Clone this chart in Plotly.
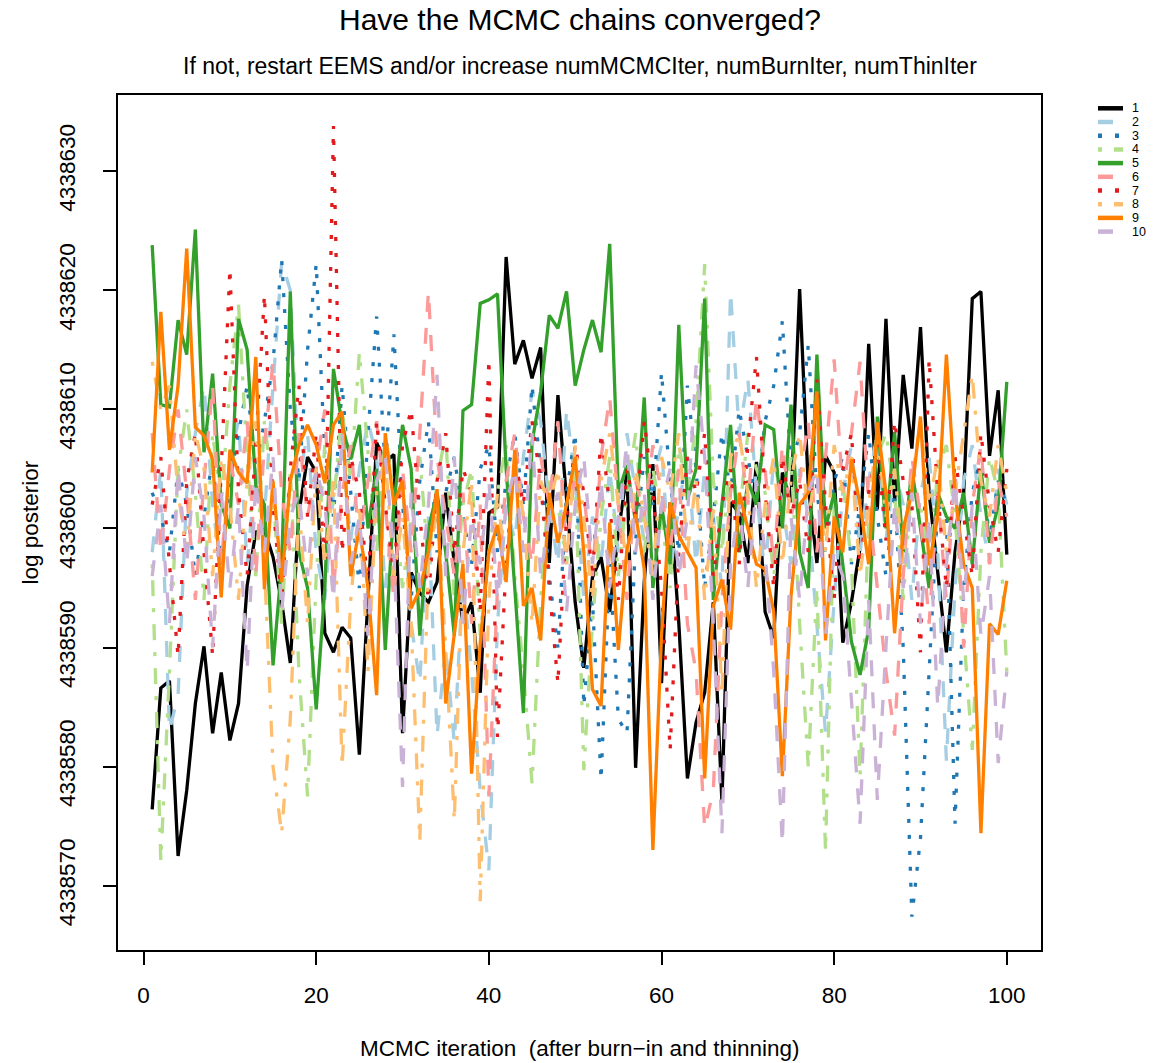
import plotly.graph_objects as go

# Log posterior traces for 10 MCMC chains, stored as offsets from BASE
BASE = 4338600
iterations = list(range(1, 101))

chain_01 = [-23.6, -13.4, -12.8, -27.5, -22.0, -14.7, -9.9, -17.2, -12.1, -17.8,
            -14.7, -4.8, -0.3, -0.1, -2.4, -6.2, -11.3, 1.3, 6.0, 4.7,
            -8.8, -10.4, -8.3, -9.2, -19.0, -6.2, 7.2, 5.6, 6.2, -17.2,
            -3.7, -5.4, -6.2, -4.5, 3.0, -2.9, -7.9, -6.2, -13.8, 1.3,
            1.8, 22.8, 13.8, 15.8, 12.6, 15.2, -2.9, 11.2, 2.2, -6.2,
            -11.7, -4.1, -2.4, -7.0, -0.3, 4.7, -20.1, -4.5, 5.4, -13.0,
            2.2, -7.9, -21.0, -16.3, -13.8, -6.2, -23.0, 2.2, 1.3, -2.9,
            5.6, -7.0, -9.2, 4.7, 2.2, 20.1, 3.6, -2.9, 6.1, 4.7,
            -9.6, -6.2, -1.6, 15.5, 1.6, 17.6, 2.2, 12.9, 6.7, 16.9,
            3.0, -3.7, -10.4, -2.0, 3.0, 19.3, 19.9, 6.1, 11.6, -2.2]

chain_02 = [-2, 5, -17, -14, 3, 8, 12, 2, -4, 6,
            9, -3, 5, 1, 12, 22.4, 20, 4, 8, -2,
            -6, 3, 7, -1, 5, 9, 6, -5, 2, 4,
            -8, -13, 1, -17.4, -10, -18, -4, -12, -22, -28.7,
            -8, 2, -1, 6, 11.5, 9, 2, -3, 10, 4,
            -6, 1, -3, 5, -2, 8, 3, -1, 4, 7,
            -4, 2, 6, -3, 5, 1, -5, 19.9, 8, 12.6,
            3, -4, 6, 2, -3, 5, 1, -8, -17.2, -6,
            3, 7, -2, 4, 8, -1, 5, 2, -6, 3,
            6, -2, -19.5, -5, 4, 7, 1, -3, 5, 2]

chain_03 = [3, 1, -2, 5, 2, -4, 1, 6, -3, 4,
            8, 12, 5, 9, 14, 22.6, 10, 4, 15, 22.2,
            6, 1, 12, 3, -5, 8, 17.8, 5, 16.3, 2,
            -6, 4, 9, -2, 3, 6, 1, -3, 5, 7,
            -2, 4, 8, 2, 12, 5, -4, -10, 3, 8,
            -14.9, -6, -21.1, -3, -16, -17.2, -1, 6, 2, 13.1,
            4, -2, 12, 5, -5, 1, 8, 3, 10, 6,
            2, 9, 12, 17.4, 5, 8, 15.4, 3, -2, 4,
            6, -3, 2, 8, 1, -4, 3, -10, -32.6, -26,
            -12, 2, 1, -24.8, -5, 3, 6, -1, 4, 2]

chain_04 = [-3, -27.9, -12, 5, 10, 3, -6, 8, 2, 12,
            18.8, 6, -4, 9, 3, -8, 5, -12, -22.5, -4,
            7, 2, 10, 4, 14.8, 6, -2, 8, 3, -5,
            1, 6, -3, 4, 8, -6, 2, 5, -9, -2,
            3, 7, -4, -12, -21.4, -6, 4, 2, -3, 5,
            -20.3, -8, 1, 6, -4, 3, 8, -2, 5, 1,
            -5, 7, 3, 9, 22.2, 4, -2, 6, 1, 8,
            5, 3, -4, 2, 6, -8, -20, -5, -27.1, 2,
            4, -3, -20.8, 1, 6, 8, 3, -6, 4, 2,
            -4, 5, 7, 1, -9, -18.6, -2, 6, 3, -12]

chain_05 = [23.8, 10.4, 10.2, 17.5, 14.6, 25.1, 6.4, 13.0, 2.0, 0.0,
            17.6, 15.0, 3.6, 2.0, -11.5, -3.0, 19.9, -2.0, -5.0, -15.2,
            -5.0, 13.4, 8.7, 5.8, 8.7, 0.0, 5.0, -10.2, 2.0, 8.7,
            5.0, -9.0, 0.0, 3.0, -2.0, -9.0, 9.9, 10.4, 18.9, 19.2,
            19.7, 5.0, -5.0, -15.5, 7.2, 11.5, 17.9, 16.8, 19.9, 12.0,
            15.0, 17.5, 14.8, 23.9, 3.0, 5.3, 0.5, 11.0, -5.0, 2.0,
            -3.0, 17.1, 2.4, 5.0, 19.3, -6.0, 2.0, 8.7, -2.0, 4.0,
            2.0, 8.7, 8.3, 0.0, 10.4, -2.0, -5.0, 14.6, 0.0, 3.0,
            -3.0, -9.5, -12.3, -8.5, 9.4, 0.0, 8.1, -2.0, 5.0, 0.0,
            -5.0, 3.0, 1.0, 0.0, 3.0, -3.0, 5.0, -1.2, 2.0, 12.3]

chain_06 = [8, -2, 5, 10, 3, -6, 4, 12, -3, 6,
            2, 9, -4, 7, 14, 3, -2, 8, 1, 5,
            10, -5, 3, 7, -1, 4, 9, 2, -6, 5,
            -2, 8, 19.9, 6, 1, -4, 3, -8, 2, -22.5,
            -5, 4, 8, 1, -3, 6, 2, 9, -2, 5,
            3, -4, 6, 11, 2, -6, 4, 1, 7, 3,
            -2, 5, -8, -12, -25.2, -22, -6, 3, 8, 2,
            11, 5, -3, 7, 1, 4, 9, -2, 6, 14.2,
            3, 8, 14, 2, -5, -12, -17.4, -4, 6, 1,
            -8, 3, -6, 5, -10, 2, 7, -3, 4, 1]

chain_07 = [2, 6, -3, -10.7, 4, 8, -2, -10.7, 5, 21.8,
            3, -4, 7, 19.6, 2, -6, 5, 12, 1, 8,
            -3, 33.8, -2, 6, 3, -5, 9, 2, -4, 7,
            10, 1, -6, 4, 8, -2, 5, 3, -7, 14.2,
            -17.5, -3, 6, 2, 9, 4, -5, -13, 1, 7,
            3, -4, 8, 2, -6, 5, 1, 9, 3, -5,
            -18.6, -2, 6, 3, 8, -4, 2, 5, -3, 7,
            14.4, 3, -5, 6, 1, 4, -2, 12.5, 2, -6,
            5, 8, -3, 3, 7, -1, 9, 4, 2, -10.4,
            14.2, 3, -5, 6, 1, -4, 8, 2, -2, 5]

chain_08 = [14, 10, 12, 3, -2, 8, 5, -4, 6, 2,
            -6, 4, 9, -3, -20, -25.6, -16, 2, -8, 5,
            -3, 4, -20, -6, 2, -12, 3, 6, -4, 1,
            -8, -26.2, -3, 2, -10, -24.5, -2, 4, -31.3, -6,
            3, -4, 6, 1, -8, 4, 2, 5, -3, 7,
            1, -6, 4, 8, 2, -3, 5, 1, -4, 6,
            3, 8, -2, 4, -6, 2, -14, 6, 8, 3,
            -5, 2, 6, -3, 4, 8, 1, 5, -2, 7,
            3, 6, -4, 2, 8, 1, 5, -3, 4, 9,
            2, 6, -2, 3, 8, 12.9, 4, 1, 7, 3]

chain_09 = [4.7, 18.2, 6.6, 12.0, 23.5, 8.5, 7.8, 5.8, -5.8, 6.6,
            4.7, 3.8, 14.4, -5.1, 4.0, -4.5, 4.0, 7.0, 8.7, 7.0,
            3.8, 8.7, 9.8, -4.0, 0.0, -5.0, -14.0, 8.0, 2.0, 4.0,
            -6.7, -5.1, -2.0, 3.3, -14.7, -9.0, -3.0, -20.6, -9.6, -2.0,
            0.3, -4.5, 6.6, -6.5, -5.0, -9.4, 3.0, -1.2, 2.0, 6.0,
            -2.0, -13.5, -14.9, 0.5, -10.2, -1.7, 1.2, -3.4, -27.0, -9.0,
            2.2, -0.6, -2.0, -3.3, -21.0, -6.5, -4.3, -8.5, 3.0, 0.0,
            -3.0, -3.4, -7.0, -20.8, -5.7, 2.0, 3.0, 11.5, -9.4, 1.0,
            -2.0, 5.8, 2.0, -3.0, 8.9, 3.0, -8.8, 0.0, 3.0, 9.4,
            -3.1, 1.0, 14.6, 3.0, -3.0, -5.0, -25.6, -8.0, -8.9, -4.4]

chain_10 = [-4, 2, -8, 5, -3, 6, 1, -10, 3, -5,
            2, -12, 4, -2, 6, -7, 1, 3, -4, 5,
            2, -6, 8, -3, 1, -9, 4, 6, -2, -21.7,
            3, -5, 2, 12.9, -4, 6, -8, 1, -3, 4,
            -6, 2, 5, -2, 8, -4, 1, 3, -7, 2,
            6, -3, 4, -5, 1, 7, -2, 3, -6, 2,
            5, -4, 1, 13.7, 6, -8, -25.6, -3, 2, -5,
            4, -2, -12, -26.5, 1, -6, 3, 5, -9, -2,
            -4, -14, -24.8, -6, -22.8, -10, 2, -5, 3, -8,
            1, -15, -3, 4, -6, 2, -9, -4, -19.7, -12]

chains = [chain_01, chain_02, chain_03, chain_04, chain_05,
          chain_06, chain_07, chain_08, chain_09, chain_10]
chain_labels = ["1", "2", "3", "4", "5", "6", "7", "8", "9", "10"]
x_ticks = [0, 20, 40, 60, 80, 100]
y_ticks = [4338570, 4338580, 4338590, 4338600, 4338610, 4338620, 4338630]

# Paired palette, black for the first chain
colors = ["#000000", "#A6CEE3", "#1F78B4", "#B2DF8A", "#33A02C",
          "#FB9A99", "#E31A1C", "#FDBF6F", "#FF7F00", "#CAB2D6"]
# line types cycle: solid, dashed, dotted, dot-dash
plot_dash = ["solid", "16px,16px", "4px,12px", "4px,12px,16px,12px"]
legend_dash = ["solid", "15px,12px", "4px,13px", "4px,12px,12px"]

W, H = 1154, 1063
L, R, T, B = 118, 1041, 95, 950   # plot region in pixels
FONT = "Liberation Sans, Arial, Helvetica, sans-serif"


def px_x(px):
    return (px - L) / (R - L)


def px_y(py):
    return (B - py) / (B - T)


fig = go.Figure()
for k, vals in enumerate(chains):
    fig.add_trace(go.Scatter(
        x=iterations,
        y=[BASE + v for v in vals],
        mode="lines",
        name=chain_labels[k],
        showlegend=False,
        line=dict(color=colors[k], width=3.3, dash=plot_dash[k % 4]),
    ))

shapes = []
annotations = []

# legend drawn at the right of the plot box
for k, lab in enumerate(chain_labels):
    yy = px_y(108.3 + 13.7 * k)
    shapes.append(dict(type="line", xref="paper", yref="paper",
                       x0=px_x(1098), x1=px_x(1123), y0=yy, y1=yy,
                       line=dict(color=colors[k], width=4.5,
                                 dash=legend_dash[k % 4])))
    annotations.append(dict(xref="paper", yref="paper", x=px_x(1131), y=yy,
                            text=lab, showarrow=False, xanchor="left",
                            yanchor="middle", borderpad=0,
                            font=dict(size=12.5, color="#000000", family=FONT)))

annotations += [
    dict(xref="paper", yref="paper", x=0.5, y=px_y(20),
         text="Have the MCMC chains converged?", showarrow=False,
         xanchor="center", yanchor="middle",
         font=dict(size=30, color="#000000", family=FONT)),
    dict(xref="paper", yref="paper", x=0.5, y=px_y(66),
         text="If not, restart EEMS and/or increase numMCMCIter, numBurnIter, numThinIter",
         showarrow=False, xanchor="center", yanchor="middle",
         font=dict(size=23, color="#000000", family=FONT)),
    dict(xref="paper", yref="paper", x=0.5, y=px_y(1048),
         text="MCMC iteration  (after burn\u2212in and thinning)",
         showarrow=False, xanchor="center", yanchor="middle",
         font=dict(size=22.5, color="#000000", family=FONT)),
    dict(xref="paper", yref="paper", x=px_x(30), y=0.5,
         text="log posterior", textangle=-90, showarrow=False,
         xanchor="center", yanchor="middle",
         font=dict(size=22.5, color="#000000", family=FONT)),
]

fig.update_layout(
    width=W, height=H,
    margin=dict(l=L, r=W - R, t=T, b=H - B, pad=0),
    paper_bgcolor="white", plot_bgcolor="white",
    font=dict(family=FONT, size=22, color="#000000"),
    showlegend=False,
    shapes=shapes,
    annotations=annotations,
    xaxis=dict(range=[-2.96, 103.96], tickvals=x_ticks,
               ticktext=[str(v) for v in x_ticks],
               showgrid=False, zeroline=False,
               showline=True, mirror=True, linecolor="#000000", linewidth=2,
               ticks="outside", ticklen=13, tickwidth=2, tickcolor="#000000",
               ticklabelstandoff=11,
               tickfont=dict(size=22.5, family=FONT, color="#000000")),
    yaxis=dict(range=[4338564.6, 4338636.4], tickvals=y_ticks,
               ticktext=[str(v) for v in y_ticks],
               showgrid=False, zeroline=False,
               showline=True, mirror=True, linecolor="#000000", linewidth=2,
               ticks="outside", ticklen=13, tickwidth=2, tickcolor="#000000",
               tickangle=-90, ticklabelstandoff=19,
               tickfont=dict(size=22.5, family=FONT, color="#000000")),
)

fig.write_html("out.html")
